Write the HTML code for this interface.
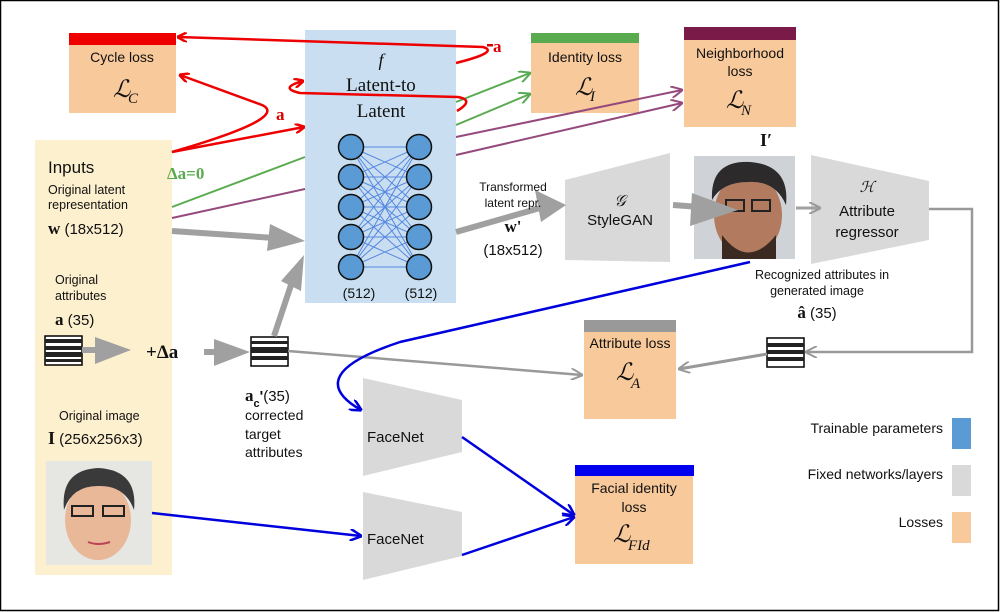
<!DOCTYPE html>
<html><head><meta charset="utf-8"><style>
html,body{margin:0;padding:0;background:#fff}
svg{display:block}
text{font-family:"Liberation Sans",sans-serif;fill:#111}
.s{font-family:"Liberation Serif",serif}
</style></head><body>
<svg width="1000" height="612" viewBox="0 0 1000 612" xmlns="http://www.w3.org/2000/svg">
<defs>
<marker id="ar" markerWidth="10" markerHeight="10" refX="9" refY="5" orient="auto" markerUnits="userSpaceOnUse"><path d="M0,0 L10,5 L0,10" fill="none" stroke="#e00" stroke-width="2.5"/></marker>
<marker id="ag" markerWidth="12" markerHeight="12" refX="11" refY="6" orient="auto" markerUnits="userSpaceOnUse"><path d="M0,0 L12,6 L0,12" fill="none" stroke="#5a5" stroke-width="2"/></marker>
<marker id="ap" markerWidth="12" markerHeight="12" refX="11" refY="6" orient="auto" markerUnits="userSpaceOnUse"><path d="M0,0 L12,6 L0,12" fill="none" stroke="#944a7c" stroke-width="2"/></marker>
<marker id="ab" markerWidth="12" markerHeight="12" refX="11" refY="6" orient="auto" markerUnits="userSpaceOnUse"><path d="M0,0 L12,6 L0,12" fill="none" stroke="#00d" stroke-width="2.5"/></marker>
<marker id="agr" markerWidth="12" markerHeight="12" refX="11" refY="6" orient="auto" markerUnits="userSpaceOnUse"><path d="M0,0 L12,6 L0,12" fill="none" stroke="#999" stroke-width="2"/></marker>
</defs>
<rect x="0.5" y="0.5" width="998" height="610" fill="#fff" stroke="#000" stroke-width="1.5"/>

<rect x="35" y="140" width="137" height="435" fill="#fdf0cf"/>
<rect x="305" y="30" width="151" height="273" fill="#c9dff1"/>

<rect x="69" y="45" width="107" height="68" fill="#f8c99b"/><rect x="69" y="33" width="107" height="12" fill="#e00"/>
<text x="122" y="62" font-size="14" text-anchor="middle">Cycle loss</text>
<text x="113" y="97" class="s" font-size="24" font-style="italic">ℒ</text><text x="128" y="103" class="s" font-size="15" font-style="italic">C</text>

<rect x="531" y="43" width="108" height="70" fill="#f8c99b"/><rect x="531" y="33" width="108" height="10" fill="#5aab4f"/>
<text x="585" y="62" font-size="14" text-anchor="middle">Identity loss</text>
<text x="575" y="95" class="s" font-size="24" font-style="italic">ℒ</text><text x="590" y="101" class="s" font-size="15" font-style="italic">I</text>

<rect x="684" y="40" width="112" height="87" fill="#f8c99b"/><rect x="684" y="27" width="112" height="13" fill="#7a1a48"/>
<text x="740" y="58" font-size="14" text-anchor="middle">Neighborhood</text>
<text x="740" y="76" font-size="14" text-anchor="middle">loss</text>
<text x="726" y="108" class="s" font-size="24" font-style="italic">ℒ</text><text x="741" y="115" class="s" font-size="15" font-style="italic">N</text>

<rect x="584" y="332" width="92" height="87" fill="#f8c99b"/><rect x="584" y="320" width="92" height="12" fill="#999"/>
<text x="630" y="348" font-size="14" text-anchor="middle">Attribute loss</text>
<text x="616" y="380" class="s" font-size="24" font-style="italic">ℒ</text><text x="631" y="388" class="s" font-size="15" font-style="italic">A</text>

<rect x="575" y="476" width="118" height="88" fill="#f8c99b"/><rect x="575" y="465" width="119" height="11" fill="#00e"/>
<text x="634" y="493" font-size="14" text-anchor="middle">Facial identity</text>
<text x="634" y="512" font-size="14" text-anchor="middle">loss</text>
<text x="613" y="542" class="s" font-size="24" font-style="italic">ℒ</text><text x="628" y="550" class="s" font-size="15" font-style="italic">FId</text>

<polygon points="565,180 670,153 670,262 565,260" fill="#d9d9d9"/>
<text x="620" y="206" class="s" font-size="16" font-style="italic" text-anchor="middle">𝒢</text>
<text x="620" y="225" font-size="15" text-anchor="middle">StyleGAN</text>
<polygon points="811,155 929,181 929,240 811,264" fill="#d9d9d9"/>
<text x="867" y="192" class="s" font-size="15" font-style="italic" text-anchor="middle">ℋ</text>
<text x="867" y="216" font-size="15" text-anchor="middle">Attribute</text>
<text x="867" y="237" font-size="15" text-anchor="middle">regressor</text>
<polygon points="363,378 462,400 462,452 363,476" fill="#d9d9d9"/>
<text x="367" y="442" font-size="15">FaceNet</text>
<polygon points="363,492 462,512 462,556 363,580" fill="#d9d9d9"/>
<text x="367" y="544" font-size="15">FaceNet</text>

<g stroke="#4a7fe0" stroke-width="1" opacity="0.9">
<path d="M351,147L419,147M351,147L419,177M351,147L419,207M351,147L419,237M351,147L419,267
M351,177L419,147M351,177L419,177M351,177L419,207M351,177L419,237M351,177L419,267
M351,207L419,147M351,207L419,177M351,207L419,207M351,207L419,237M351,207L419,267
M351,237L419,147M351,237L419,177M351,237L419,207M351,237L419,237M351,237L419,267
M351,267L419,147M351,267L419,177M351,267L419,207M351,267L419,237M351,267L419,267"/>
</g>
<g fill="#5b9bd5" stroke="#111" stroke-width="1.5">
<circle cx="351" cy="147" r="12.5"/><circle cx="351" cy="177" r="12.5"/><circle cx="351" cy="207" r="12.5"/><circle cx="351" cy="237" r="12.5"/><circle cx="351" cy="267" r="12.5"/>
<circle cx="419" cy="147" r="12.5"/><circle cx="419" cy="177" r="12.5"/><circle cx="419" cy="207" r="12.5"/><circle cx="419" cy="237" r="12.5"/><circle cx="419" cy="267" r="12.5"/>
</g>
<text x="359" y="298" font-size="14" text-anchor="middle">(512)</text>
<text x="421" y="298" font-size="14" text-anchor="middle">(512)</text>
<text x="381" y="66" class="s" font-size="18" font-style="italic" text-anchor="middle">f</text>
<text x="381" y="91" class="s" font-size="19" text-anchor="middle">Latent-to</text>
<text x="381" y="117" class="s" font-size="19" text-anchor="middle">Latent</text>

<g>
<rect x="694" y="156" width="101" height="103" fill="#cfd3d8"/>
<ellipse cx="748" cy="215" rx="34" ry="42" fill="#b27a5e"/>
<path d="M712,200 Q710,160 750,162 Q790,165 786,205 Q775,180 748,182 Q722,182 712,200Z" fill="#2c2a2a"/>
<path d="M722,235 Q748,270 776,235 L776,259 L722,259Z" fill="#3a2a22"/>
<rect x="726" y="200" width="18" height="11" fill="none" stroke="#222" stroke-width="2"/><rect x="752" y="200" width="18" height="11" fill="none" stroke="#222" stroke-width="2"/>
</g>
<g>
<rect x="46" y="461" width="106" height="104" fill="#e6e6e2"/>
<ellipse cx="98" cy="520" rx="33" ry="40" fill="#e8b898"/>
<path d="M64,510 Q60,470 98,468 Q138,470 134,510 Q125,485 98,486 Q72,486 64,510Z" fill="#3a3a3a"/>
<rect x="72" y="506" width="21" height="10" fill="none" stroke="#222" stroke-width="2"/><rect x="103" y="506" width="21" height="10" fill="none" stroke="#222" stroke-width="2"/>
<path d="M88,542 Q98,546 110,542" stroke="#b45" stroke-width="2" fill="none"/>
</g>

<g>
<rect x="45" y="336" width="37" height="29" fill="#fff" stroke="#000" stroke-width="1.5"/>
<rect x="45" y="339" width="37" height="4" fill="#222"/><rect x="45" y="346" width="37" height="4" fill="#222"/><rect x="45" y="352" width="37" height="5" fill="#222"/><rect x="45" y="359" width="37" height="3" fill="#222"/>
<rect x="251" y="337" width="37" height="29" fill="#fff" stroke="#000" stroke-width="1.5"/>
<rect x="251" y="341" width="37" height="3" fill="#222"/><rect x="251" y="347" width="37" height="6" fill="#222"/><rect x="251" y="356" width="37" height="4" fill="#222"/>
<rect x="767" y="338" width="37" height="29" fill="#fff" stroke="#000" stroke-width="1.5"/>
<rect x="767" y="343" width="37" height="4" fill="#222"/><rect x="767" y="350" width="37" height="4" fill="#222"/><rect x="767" y="357" width="37" height="4" fill="#222"/>
</g>

<g stroke="#a0a0a0" stroke-width="6" fill="none">
<path d="M172,231 L275,238"/>
<path d="M274,336 L292,282"/>
<path d="M456,232 L540,208"/>
<path d="M673,205 L700,207"/>
<path d="M82,350 L98,350"/>
<path d="M204,352 L218,352"/>
</g>
<g fill="#a0a0a0">
<polygon points="270,224 305,241 267,251"/>
<polygon points="304,255 281,281 301,291"/>
<polygon points="566,205 535,190 541,222"/>
<polygon points="738,210 692,193 690,226"/>
<polygon points="95,337 131,350 95,364"/>
<polygon points="214,339 250,352 214,366"/>
</g>
<path d="M796,208 L820,208" stroke="#a0a0a0" stroke-width="3" marker-end="url(#agr)"/>
<path d="M288,351 L582,375" stroke="#999" stroke-width="2.5" marker-end="url(#agr)"/>
<path d="M929,209 L972,209 L972,352 L806,352" stroke="#999" stroke-width="2.5" fill="none" marker-end="url(#agr)"/>
<path d="M767,354 L679,369" stroke="#999" stroke-width="3" marker-end="url(#agr)"/>

<path d="M172,207 L305,157" stroke="#5aab4f" stroke-width="2"/>
<path d="M456,102 L530,73" stroke="#5aab4f" stroke-width="2" marker-end="url(#ag)"/>
<path d="M456,125 L530,94" stroke="#5aab4f" stroke-width="2" marker-end="url(#ag)"/>
<path d="M172,218 L305,189" stroke="#944a7c" stroke-width="2"/>
<path d="M456,137 L682,90" stroke="#944a7c" stroke-width="2" marker-end="url(#ap)"/>
<path d="M456,155 L682,103" stroke="#944a7c" stroke-width="2" marker-end="url(#ap)"/>

<g stroke="#e00" stroke-width="2.5" fill="none">
<path d="M456,63 Q500,52 483,47 L178,37" marker-end="url(#ar)"/>
<path d="M457,111 Q475,100 458,97 L300,93 Q278,88 303,81" marker-end="url(#ar)"/>
<path d="M172,152 L304,127" marker-end="url(#ar)"/>
<path d="M172,152 Q290,118 262,105 L180,75" marker-end="url(#ar)"/>
</g>

<g stroke="#00d" stroke-width="2.5" fill="none">
<path d="M750,262 L400,342 Q300,375 361,410" marker-end="url(#ab)"/>
<path d="M152,513 L361,536" marker-end="url(#ab)"/>
<path d="M462,437 L574,515" marker-end="url(#ab)"/>
<path d="M462,555 L574,517" marker-end="url(#ab)"/>
</g>

<rect x="487" y="44" width="6" height="2.5" fill="#d00"/>
<text x="493" y="52" class="s" font-size="17" font-weight="bold" style="fill:#d00">a</text>
<text x="276" y="120" class="s" font-size="17" font-weight="bold" style="fill:#d00">a</text>
<text x="167" y="179" class="s" font-size="17" font-weight="bold" style="fill:#5aab4f">Δa=0</text>
<text x="48" y="173" font-size="17">Inputs</text>
<text x="48" y="194" font-size="12.5">Original latent</text>
<text x="48" y="209" font-size="12.5">representation</text>
<text x="48" y="234" font-size="15"><tspan class="s" font-weight="bold" font-size="17">w</tspan> (18x512)</text>
<text x="55" y="284" font-size="12.5">Original</text>
<text x="55" y="300" font-size="12.5">attributes</text>
<text x="55" y="325" font-size="15"><tspan class="s" font-weight="bold" font-size="17">a</tspan> (35)</text>
<text x="146" y="358" class="s" font-size="19" font-weight="bold">+Δa</text>
<text x="59" y="420" font-size="12.5">Original image</text>
<text x="48" y="444" font-size="15"><tspan class="s" font-weight="bold" font-size="18">I</tspan> (256x256x3)</text>
<text x="245" y="401" font-size="15"><tspan class="s" font-weight="bold" font-size="17">a</tspan><tspan font-size="11" font-weight="bold" dy="6">c</tspan><tspan dy="-6" font-weight="bold">'</tspan>(35)</text>
<text x="245" y="420" font-size="14">corrected</text>
<text x="245" y="439" font-size="14">target</text>
<text x="245" y="457" font-size="14">attributes</text>
<text x="513" y="191" font-size="12" text-anchor="middle">Transformed</text>
<text x="513" y="207" font-size="12" text-anchor="middle">latent repr.</text>
<text x="513" y="232" class="s" font-size="17" font-weight="bold" text-anchor="middle">w'</text>
<text x="513" y="255" font-size="15" text-anchor="middle">(18x512)</text>
<text x="760" y="146" class="s" font-size="18" font-weight="bold">I′</text>
<text x="822" y="279" font-size="12.5" text-anchor="middle">Recognized attributes in</text>
<text x="817" y="295" font-size="12.5" text-anchor="middle">generated image</text>
<text x="817" y="318" font-size="15" text-anchor="middle"><tspan class="s" font-weight="bold" font-size="17">â</tspan> (35)</text>

<text x="943" y="433" font-size="14" text-anchor="end">Trainable parameters</text>
<rect x="952" y="418" width="19" height="31" fill="#5b9bd5"/>
<text x="943" y="479" font-size="14" text-anchor="end">Fixed networks/layers</text>
<rect x="952" y="465" width="19" height="31" fill="#d9d9d9"/>
<text x="943" y="527" font-size="14" text-anchor="end">Losses</text>
<rect x="952" y="512" width="19" height="31" fill="#f8c99b"/>
</svg>
</body></html>
